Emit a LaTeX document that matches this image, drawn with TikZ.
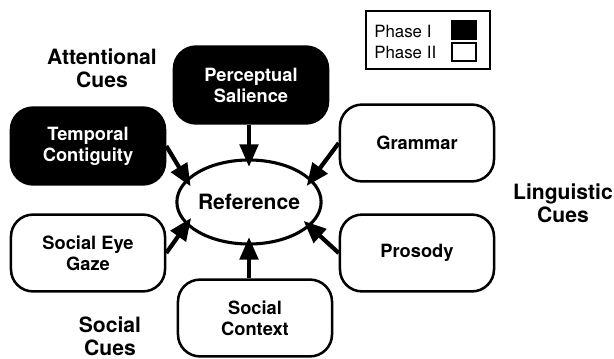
\documentclass[tikz,border=0pt]{standalone}
\usepackage{fontspec}
\setmainfont{TeX Gyre Heros}
\usetikzlibrary{arrows.meta, shapes.geometric}

\begin{document}
\begin{tikzpicture}[
    x=0.025cm, y=-0.025cm,
    cuebox/.style={draw, line width=1.8pt, rounded corners=0.55cm,
        minimum width=3.85cm, minimum height=1.92cm, align=center,
        font=\fontsize{13}{15}\selectfont\bfseries},
    phaseone/.style={cuebox, fill=black, text=white},
    phasetwo/.style={cuebox, fill=white},
    cuelabel/.style={align=center, font=\fontsize{15}{16.5}\selectfont\bfseries},
    cuearrow/.style={line width=3pt, -{Triangle[length=16pt,width=13pt]},
        shorten >=-6pt},
    keysquare/.style={draw, line width=1.3pt, minimum width=0.6cm,
        minimum height=0.46cm, inner sep=0pt}
]

\useasboundingbox (0,0) rectangle (614,358);

% ============================================================
% Centre
% ============================================================
\node[ellipse, draw, line width=2.2pt, minimum width=3.45cm,
      minimum height=2.1cm, inner sep=0pt,
      font=\fontsize{15}{17}\selectfont\bfseries] (ref) at (249,202) {Reference};

% ============================================================
% Cues
% ============================================================
\node[phaseone] (salience) at (251,85)  {Perceptual\\Salience};
\node[phaseone] (temporal) at (88,146)  {Temporal\\Contiguity};
\node[phasetwo] (grammar)  at (417,143) {Grammar};
\node[phasetwo] (gaze)     at (88,253)  {Social Eye\\Gaze};
\node[phasetwo] (prosody)  at (417,253) {Prosody};
\node[phasetwo] (context)  at (255,318) {Social\\Context};

% Group labels
\node[cuelabel] (attlabel) at (102,68)  {Attentional\\Cues};
\node[cuelabel] (linlabel) at (563,203) {Linguistic\\Cues};
\node[cuelabel] (soclabel) at (110,336) {Social\\Cues};

% ============================================================
% Arrows into Reference
% ============================================================
\draw[cuearrow] (salience.south -| ref.north) -- (ref.north);
\draw[cuearrow] (temporal.east) -- (ref.160);
\draw[cuearrow] (grammar.west) -- (ref.20);
\draw[cuearrow] (gaze.east) -- (ref.200);
\draw[cuearrow] (prosody.west) -- (ref.-22);
\draw[cuearrow] (context.north -| ref.south) -- (ref.south);

% ============================================================
% Legend
% ============================================================
\draw[line width=1.5pt] (366,11) rectangle (490,69);
\node[anchor=west, inner sep=0pt, font=\fontsize{12}{14}\selectfont] (phaseI)  at (374,31) {Phase I};
\node[anchor=west, inner sep=0pt, font=\fontsize{12}{14}\selectfont] (phaseII) at (374,52) {Phase II};
\node[keysquare, fill=black] (keyI)  at (464,30) {};
\node[keysquare, fill=white] (keyII) at (464,52) {};

\end{tikzpicture}
\end{document}
